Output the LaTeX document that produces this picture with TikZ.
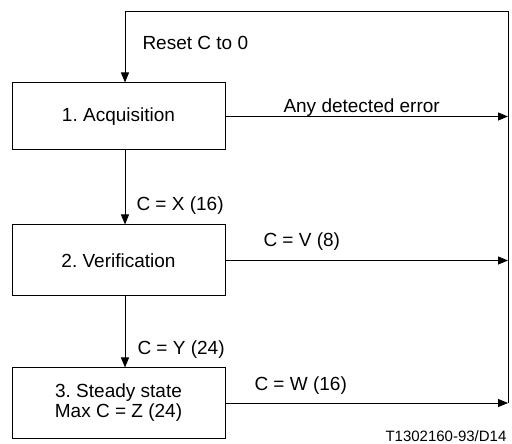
\documentclass[tikz,border=0pt]{standalone}
\usepackage{fontspec}
\setmainfont{Liberation Sans}
\usetikzlibrary{arrows.meta}
\usetikzlibrary{positioning}
\frenchspacing

\begin{document}
\begin{tikzpicture}[x=0.5pt,y=0.5pt,line width=0.5pt,
	every node/.style={font=\fontsize{9.5}{10}\selectfont},
	box/.style={draw,minimum width=106.5pt,minimum height=33.5pt,align=center,inner sep=0pt},
	arr/.style={-{Triangle[length=5pt,width=4pt]}},
	lbl/.style={anchor=base west,inner sep=0pt}]

	\useasboundingbox (0,0) rectangle (512,443);

	\node[box] (acq) at (118.5,326.5) {1. Acquisition};
	\node[box,minimum height=35.5pt] (ver) at (118.5,182.5) {2. Verification};
	\node[box,minimum height=35pt] (ste) at (118.5,40) {3. Steady state\\Max C = Z (24)};

	\coordinate (tr) at (508,431);
	\coordinate (tl) at (125,431);
	\coordinate (br) at (508,40);

	\draw[arr] (br) -- (tr) -- (tl) -- (tl |- acq.north);
	\draw[arr] (acq.east) -- (acq.east -| tr);
	\draw[arr] (ver.east) -- (ver.east -| tr);
	\draw[arr] (ste.east) -- (ste.east -| tr);
	\draw[arr] (tl |- acq.south) -- (tl |- ver.north);
	\draw[arr] (tl |- ver.south) -- (tl |- ste.north);

	\node[lbl] (rst) at (142,393.7) {Reset C to 0};
	\node[lbl] (err) at (283,330) {Any detected error};
	\node[lbl] (cx) at (136,232) {C = X (16)};
	\node[lbl] (cv) at (263,196.3) {C = V (8)};
	\node[lbl] (cy) at (137,88.7) {C = Y (24)};
	\node[lbl] (cw) at (254,52.3) {C = W  (16)};
	\node[lbl,font=\fontsize{7.5}{9}\selectfont] (ref) at (385,2) {T1302160-93/D14};
\end{tikzpicture}
\end{document}
